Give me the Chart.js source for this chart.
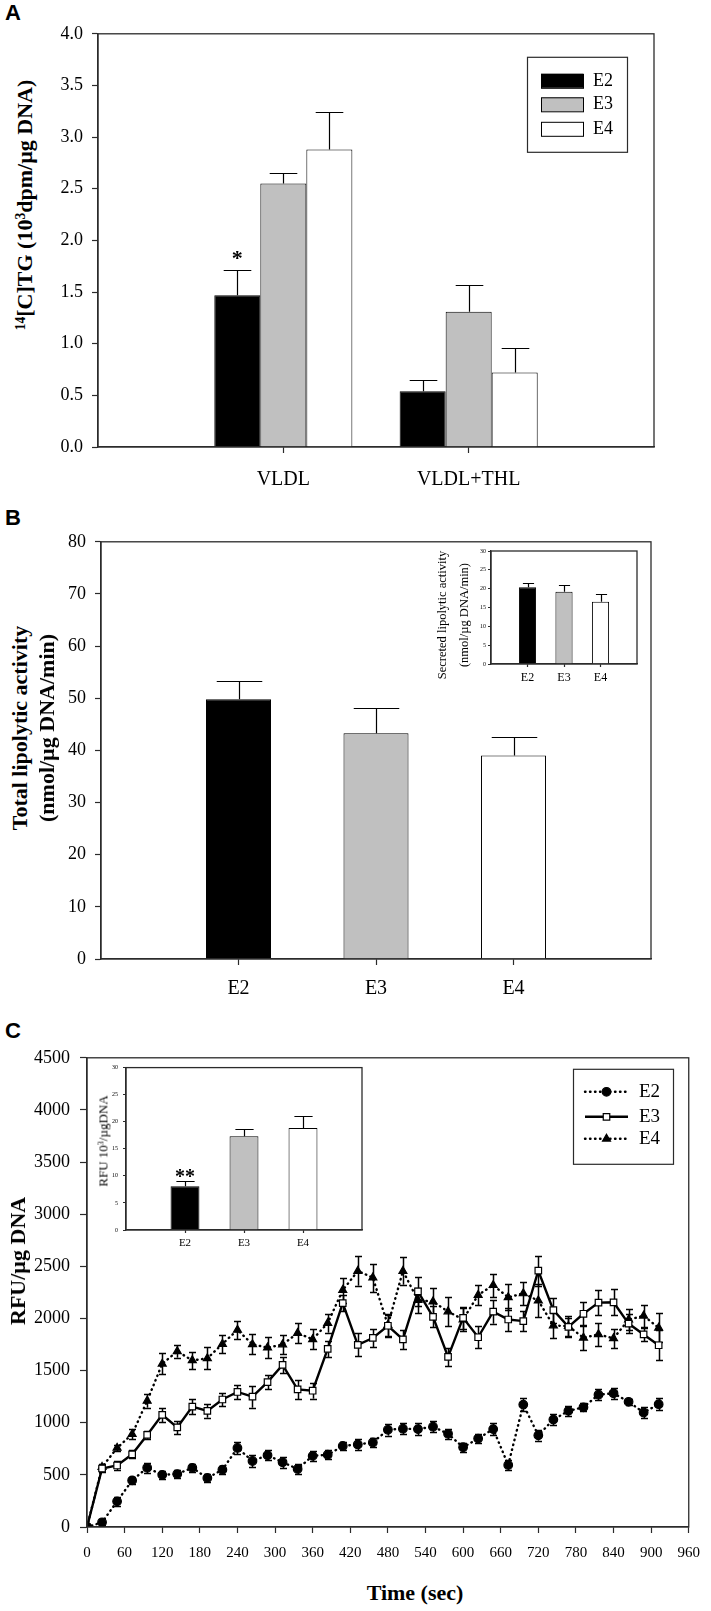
<!DOCTYPE html>
<html>
<head>
<meta charset="utf-8">
<script src="https://cdn.jsdelivr.net/npm/chart.js"></script>
<style>
  html, body { margin: 0; padding: 0; background: #fff; }
  #page { position: relative; width: 711px; height: 1611px; overflow: hidden;
          font-family: 'Liberation Serif', 'Times New Roman', serif; color: #000; }
  canvas { position: absolute; }
  .lbl { position: absolute; white-space: nowrap; line-height: 1; }
  .panel { font-family: 'Liberation Sans', Arial, sans-serif; font-weight: bold; font-size: 22px; }
  .ttl { font-weight: bold; font-size: 22px; }
  .mid { transform: translate(-50%, -50%); }
  .vt { transform: translate(-50%, -50%) rotate(-90deg); }
  .sup { font-size: 0.62em; position: relative; top: -0.55em; }
</style>
</head>
<body>
<div id="page">
  <div class="lbl panel" style="left:5px;top:2px">A</div>
  <div class="lbl panel" style="left:5px;top:507px">B</div>
  <div class="lbl panel" style="left:5px;top:1020px">C</div>

  <canvas id="chartA" width="630" height="493" style="left:38px;top:14px"></canvas>
  <canvas id="chartB" width="624" height="497" style="left:41px;top:522px"></canvas>
  <canvas id="chartB2" width="172" height="145" style="left:471px;top:545px"></canvas>
  <canvas id="chartC" width="694" height="534" style="left:17px;top:1037px"></canvas>
  <canvas id="chartC2" width="262" height="197" style="left:106px;top:1059px"></canvas>

  <div class="lbl ttl vt" style="left:25px;top:205px"><span class="sup">14</span>[C]TG (10<span class="sup">3</span>dpm/µg DNA)</div>
  <div class="lbl ttl vt" style="left:20px;top:728px">Total lipolytic activity</div>
  <div class="lbl ttl vt" style="left:47px;top:728px">(nmol/µg DNA/min)</div>
  <div class="lbl vt" style="left:442px;top:615px;font-size:12.5px">Secreted lipolytic activity</div>
  <div class="lbl vt" style="left:464px;top:615px;font-size:12.5px">(nmol/µg DNA/min)</div>
  <div class="lbl ttl vt" style="left:18px;top:1261px">RFU/µg DNA</div>
  <div class="lbl vt" style="left:103px;top:1141px;font-size:13px">RFU 10<span class="sup">3</span>/µgDNA</div>
  <div class="lbl ttl mid" style="left:415px;top:1593px">Time (sec)</div>
</div>

<script>
// ---- data ----

// A: 14C-TG per group
const aGroups = ['VLDL', 'VLDL+THL'];
const aE2 = [1.47, 0.54];
const aE3 = [2.55, 1.31];
const aE4 = [2.88, 0.72];
const aE2Err = [0.24, 0.105];
const aE3Err = [0.10, 0.255];
const aE4Err = [0.36, 0.237];
const aE2Marks = ['*', ''];

// B: lipolytic activity
const genotypes = ['E2', 'E3', 'E4'];
const bTotal = [49.8, 43.3, 39.0];
const bTotalErr = [3.5, 4.8, 3.5];
const bSecreted = [20.4, 19.2, 16.5];
const bSecretedErr = [1.1, 1.9, 2.1];

// C: RFU time course
const cTime = [0, 24, 48, 72, 96, 120, 144, 168, 192, 216, 240, 264, 288, 312, 336, 360, 384, 408, 432, 456,
               480, 504, 528, 552, 576, 600, 624, 648, 672, 696, 720, 744, 768, 792, 816, 840, 864, 888, 912];
const cE2 = [0, 45, 246, 447, 568, 500, 508, 568, 470, 549, 758, 633, 689, 621, 557, 682, 693, 777, 792, 811,
             932, 943, 939, 962, 894, 765, 848, 939, 595, 1174, 879, 1030, 1114, 1148, 1269, 1282, 1201, 1098, 1178];
const cE2Err = [0, 30, 40, 35, 50, 35, 35, 40, 35, 40, 55, 55, 50, 55, 50, 50, 45, 40, 55, 45,
                55, 50, 55, 55, 50, 45, 45, 60, 50, 60, 50, 55, 50, 40, 55, 55, 30, 55, 60];
const cE3 = [0, 561, 590, 697, 883, 1076, 955, 1155, 1114, 1223, 1295, 1250, 1390, 1554, 1320, 1307, 1708, 2147, 1746, 1813,
             1930, 1799, 2260, 2016, 1631, 2006, 1820, 2066, 1990, 1975, 2458, 2080, 1919, 2045, 2152, 2155, 1951, 1847, 1743];
const cE3Err = [0, 30, 40, 40, 40, 70, 60, 75, 65, 60, 70, 105, 70, 80, 90, 75, 75, 75, 110, 90,
                110, 95, 140, 100, 90, 105, 105, 115, 110, 100, 145, 120, 85, 115, 120, 125, 95, 60, 142];
const cE4 = [0, 575, 758, 890, 1210, 1565, 1685, 1598, 1617, 1755, 1890, 1752, 1720, 1750, 1860, 1800, 1955, 2272, 2455, 2392,
             1936, 2455, 2175, 2162, 2067, 1990, 2225, 2319, 2203, 2240, 2171, 1932, 1926, 1815, 1847, 1809, 1988, 2026, 1910];
const cE4Err = [0, 30, 30, 50, 65, 100, 60, 85, 105, 90, 90, 95, 100, 95, 100, 95, 90, 120, 140, 135,
                100, 130, 120, 130, 140, 110, 100, 110, 125, 110, 160, 120, 100, 120, 110, 90, 100, 105, 140];
const cInset = [8.06, 17.3, 18.85];
const cInsetErr = [0.97, 1.3, 2.3];
const cInsetMarks = ['**', '', ''];

// ---- styling ----
const AXIS = '#2b2b2b';
const GRAY = '#c0c0c0';
const SERIF = '"Liberation Serif", "Times New Roman", serif';
const barFill = ['#000', GRAY, '#fff'];

const edge = arr => [null, ...arr, null];   // empty slot either side of the groups

// box round the plot area
const frame = {
  id: 'frame',
  afterDraw(chart) {
    const a = chart.chartArea, ctx = chart.ctx;
    ctx.save();
    ctx.strokeStyle = AXIS; ctx.lineWidth = 1.3;
    ctx.strokeRect(a.left, a.top, a.right - a.left, a.bottom - a.top);
    ctx.restore();
  }
};

// error bars from ds.errors, drawn under the marks
const errorBars = {
  id: 'errorBars',
  beforeDatasetsDraw(chart) {
    const ctx = chart.ctx;
    chart.data.datasets.forEach((ds, i) => {
      if (!ds.errors) return;
      const meta = chart.getDatasetMeta(i);
      const ys = chart.scales[meta.yAxisID];
      ctx.save();
      ctx.strokeStyle = '#000';
      ctx.lineWidth = ds.errWidth || 1.2;
      meta.data.forEach((el, j) => {
        const raw = ds.data[j];
        const v = raw && typeof raw === 'object' ? raw.y : raw;
        const e = ds.errors[j];
        if (v == null || !e) return;
        const yTop = Math.round(ys.getPixelForValue(v + e)) + 0.5;
        const yBot = ds.errBoth ? ys.getPixelForValue(v - e) : el.y;
        const half = ds.capPx ? ds.capPx / 2 : el.width * ds.capFrac / 2;
        const x = Math.round(el.x) + 0.5;
        ctx.beginPath();
        ctx.moveTo(x, yBot); ctx.lineTo(x, yTop);
        ctx.moveTo(x - half, yTop); ctx.lineTo(x + half, yTop);
        if (ds.errBoth) {
          const yb = Math.round(yBot) + 0.5;
          ctx.moveTo(x - half, yb); ctx.lineTo(x + half, yb);
        }
        ctx.stroke();
      });
      ctx.restore();
    });
  }
};

// significance stars above the error bar
const starMarks = {
  id: 'starMarks',
  afterDatasetsDraw(chart, args, o) {
    const ctx = chart.ctx;
    chart.data.datasets.forEach((ds, i) => {
      if (!ds.marks) return;
      const meta = chart.getDatasetMeta(i), ys = chart.scales.y;
      meta.data.forEach((el, j) => {
        const m = ds.marks[j];
        if (!m) return;
        const top = ys.getPixelForValue(ds.data[j] + (ds.errors ? ds.errors[j] : 0));
        ctx.save();
        ctx.font = o.font; ctx.fillStyle = '#000';
        ctx.textAlign = 'center'; ctx.textBaseline = 'alphabetic';
        ctx.fillText(m, el.x, top + o.dy);
        ctx.restore();
      });
    });
  }
};

function drawMarker(ctx, style, x, y, r) {
  ctx.beginPath();
  if (style === 'circle') {
    ctx.arc(x, y, r, 0, Math.PI * 2);
  } else if (style === 'rect') {
    const s = r * Math.SQRT1_2;
    ctx.rect(x - s, y - s, 2 * s, 2 * s);
  } else {
    for (let k = 0; k < 3; k++) {
      const ang = k * 2 * Math.PI / 3;
      const px = x + Math.sin(ang) * r, py = y - Math.cos(ang) * r;
      k ? ctx.lineTo(px, py) : ctx.moveTo(px, py);
    }
    ctx.closePath();
  }
  ctx.fill(); ctx.stroke();
}

// boxed legend inside the plot area
const boxLegend = {
  id: 'boxLegend',
  afterDraw(chart, args, o) {
    if (!o || !o.box) return;
    const a = chart.chartArea, ctx = chart.ctx;
    const bx = a.left + o.box[0], by = a.top + o.box[1];
    ctx.save();
    ctx.fillStyle = '#fff';
    ctx.fillRect(bx, by, o.box[2], o.box[3]);
    ctx.strokeStyle = AXIS; ctx.lineWidth = 1.2;
    ctx.strokeRect(bx + 0.5, by + 0.5, o.box[2], o.box[3]);
    ctx.font = o.font; ctx.textBaseline = 'middle'; ctx.textAlign = 'left';
    chart.data.datasets.forEach((ds, i) => {
      const y = by + o.rows[i];
      if (o.kind === 'swatch') {
        ctx.fillStyle = ds.backgroundColor;
        ctx.fillRect(bx + o.sample[0], y - 7, o.sample[1], 14);
        ctx.strokeStyle = '#000'; ctx.lineWidth = 1;
        ctx.strokeRect(bx + o.sample[0] + 0.5, y - 6.5, o.sample[1], 14);
      } else {
        const x0 = bx + o.sample[0], x1 = x0 + o.sample[1];
        ctx.save();
        ctx.strokeStyle = ds.borderColor; ctx.lineWidth = ds.borderWidth;
        ctx.lineCap = ds.borderCapStyle || 'butt';
        ctx.setLineDash(ds.borderDash || []);
        ctx.beginPath(); ctx.moveTo(x0, y); ctx.lineTo(x1, y); ctx.stroke();
        ctx.restore();
        ctx.save();
        ctx.fillStyle = ds.pointBackgroundColor; ctx.strokeStyle = '#000';
        ctx.lineWidth = ds.pointBorderWidth;
        drawMarker(ctx, ds.pointStyle, (x0 + x1) / 2, y, ds.pointRadius);
        ctx.restore();
      }
      ctx.fillStyle = '#000';
      ctx.fillText(ds.label, bx + o.textX, y);
    });
    ctx.restore();
  }
};

function valueAxis(min, max, step, fmt, size, tl, pad, w) {
  return {
    min, max,
    afterFit: s => { s.width = w; },
    border: { color: AXIS, width: 1.3 },
    grid: { drawOnChartArea: false, tickLength: tl, tickColor: AXIS, tickWidth: 1.2 },
    ticks: { stepSize: step, callback: fmt, font: { size, family: SERIF }, padding: pad, color: '#000' }
  };
}

function groupAxis(size, tl, pad, h) {
  return {
    type: 'category', offset: false,
    afterFit: s => { s.height = h; },
    border: { color: AXIS, width: 1.3 },
    grid: {
      offset: false, drawOnChartArea: false, tickLength: tl, tickWidth: 1.2,
      tickColor: c => (c.tick && c.tick.label) ? AXIS : 'rgba(0,0,0,0)'
    },
    ticks: { autoSkip: false, maxRotation: 0, font: { size, family: SERIF }, padding: pad, color: '#000' }
  };
}

function baseOptions(padding, scales, pluginOpts) {
  return {
    responsive: false, animation: false, events: [],
    layout: { padding },
    scales,
    plugins: Object.assign({ legend: { display: false }, tooltip: { enabled: false } }, pluginOpts)
  };
}

function drawAll() {
  Chart.defaults.font.family = SERIF;
  Chart.defaults.color = '#000';
  Chart.defaults.animation = false;

  // ---- panel A ----
  new Chart(document.getElementById('chartA'), {
    type: 'bar',
    data: {
      labels: edge(aGroups),
      datasets: [
        { label: 'E2', data: edge(aE2), errors: edge(aE2Err), marks: edge(aE2Marks), backgroundColor: barFill[0] },
        { label: 'E3', data: edge(aE3), errors: edge(aE3Err), backgroundColor: barFill[1] },
        { label: 'E4', data: edge(aE4), errors: edge(aE4Err), backgroundColor: barFill[2] }
      ].map(d => Object.assign(d, {
        borderColor: '#000', borderWidth: 1, barPercentage: 1, categoryPercentage: 0.745, capFrac: 0.6
      }))
    },
    options: baseOptions({ top: 14, right: 14, left: 0, bottom: 0 }, {
      x: groupAxis(20, 6, 15, 60),
      y: valueAxis(0, 4, 0.5, v => v.toFixed(1), 18, 6, 9, 60)
    }, {
      starMarks: { font: 'bold 22px ' + SERIF, dy: -5 },
      boxLegend: { kind: 'swatch', box: [429, 23, 100, 95], rows: [24, 47.5, 72], sample: [14, 42], textX: 66,
                   font: '18px ' + SERIF }
    }),
    plugins: [frame, errorBars, starMarks, boxLegend]
  });

  // ---- panel B ----
  new Chart(document.getElementById('chartB'), {
    type: 'bar',
    data: {
      labels: edge(genotypes),
      datasets: [{
        label: 'Total', data: edge(bTotal), errors: edge(bTotalErr), backgroundColor: edge(barFill),
        borderColor: '#000', borderWidth: 1, barPercentage: 1, categoryPercentage: 0.473, capFrac: 0.7
      }]
    },
    options: baseOptions({ top: 14, right: 14, left: 0, bottom: 0 }, {
      x: groupAxis(20, 6, 12, 60),
      y: valueAxis(0, 80, 10, v => v, 18, 6, 9, 60)
    }),
    plugins: [frame, errorBars]
  });

  new Chart(document.getElementById('chartB2'), {
    type: 'bar',
    data: {
      labels: edge(genotypes),
      datasets: [{
        label: 'Secreted', data: edge(bSecreted), errors: edge(bSecretedErr), backgroundColor: edge(barFill),
        borderColor: '#000', borderWidth: 1, barPercentage: 1, categoryPercentage: 0.47, capFrac: 0.65
      }]
    },
    options: baseOptions({ top: 6, right: 6, left: 0, bottom: 0 }, {
      x: groupAxis(12, 3, 4, 26),
      y: valueAxis(0, 30, 5, v => v, 6, 3, 2, 20)
    }),
    plugins: [frame, errorBars]
  });

  // ---- panel C ----
  const pts = ys => cTime.map((t, i) => ({ x: t, y: ys[i] }));
  const dotted = { borderDash: [0.5, 4.5], borderCapStyle: 'round', borderWidth: 2.4 };

  new Chart(document.getElementById('chartC'), {
    type: 'line',
    data: {
      datasets: [
        Object.assign({ label: 'E2', data: pts(cE2), errors: cE2Err, pointStyle: 'circle', pointRadius: 4.3,
          pointBackgroundColor: '#000' }, dotted),
        { label: 'E3', data: pts(cE3), errors: cE3Err, pointStyle: 'rect', pointRadius: 4.6,
          pointBackgroundColor: '#fff', borderWidth: 2.4 },
        Object.assign({ label: 'E4', data: pts(cE4), errors: cE4Err, pointStyle: 'triangle', pointRadius: 4.6,
          pointBackgroundColor: '#000' }, dotted)
      ].map(d => Object.assign(d, {
        borderColor: '#000', pointBorderColor: '#000', pointBorderWidth: 1.2, tension: 0,
        errBoth: true, capPx: 7, errWidth: 1.5
      }))
    },
    options: baseOptions({ top: 14, right: 14, left: 0, bottom: 0 }, {
      x: {
        type: 'linear', min: 0, max: 960,
        afterFit: s => { s.height = 44; },
        border: { color: AXIS, width: 1.3 },
        grid: { drawOnChartArea: false, tickLength: 6, tickColor: AXIS, tickWidth: 1.2 },
        ticks: { stepSize: 60, font: { size: 15, family: SERIF }, padding: 11, color: '#000', maxRotation: 0, autoSkip: false }
      },
      y: valueAxis(0, 4500, 500, v => v, 18, 7, 10, 70)
    }, {
      boxLegend: { kind: 'line', box: [486, 11, 100, 95], rows: [23, 48, 70], sample: [12, 43], textX: 66,
                   font: '19px ' + SERIF }
    }),
    plugins: [frame, errorBars, boxLegend]
  });

  new Chart(document.getElementById('chartC2'), {
    type: 'bar',
    data: {
      labels: edge(genotypes),
      datasets: [{
        label: 'RFU', data: edge(cInset), errors: edge(cInsetErr), marks: edge(cInsetMarks),
        backgroundColor: edge(barFill), borderColor: '#000', borderWidth: 1,
        barPercentage: 1, categoryPercentage: 0.49, capFrac: 0.63
      }]
    },
    options: baseOptions({ top: 6, right: 6, left: 0, bottom: 0 }, {
      x: groupAxis(11, 3, 4, 26),
      y: valueAxis(0, 30, 5, v => v, 6, 3, 5, 20)
    }, {
      starMarks: { font: 'bold 20px ' + SERIF, dy: 2 },
    }),
    plugins: [frame, errorBars, starMarks]
  });
}

// wait for the serif faces so the canvas text is not drawn with a fallback
Promise.all([
  document.fonts.load('18px "Liberation Serif"'),
  document.fonts.load('bold 22px "Liberation Serif"')
]).then(drawAll, drawAll);
</script>
</body>
</html>
